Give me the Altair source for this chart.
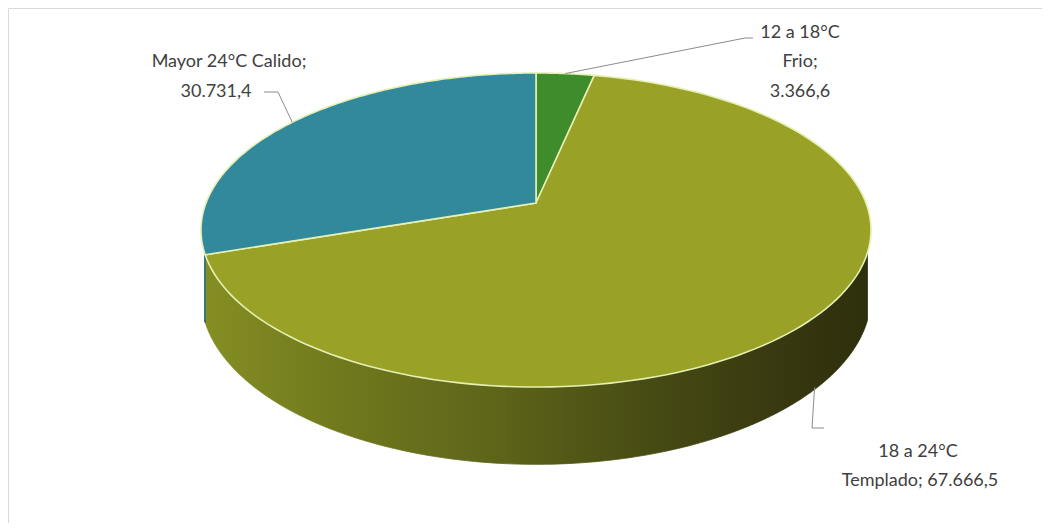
import altair as alt
import pandas as pd

# ---- data ----
categories = ["12 a 18°C Frio", "18 a 24°C Templado", "Mayor 24°C Calido"]
values = [3366.6, 67666.5, 30731.4]
label_lines = [
    ["12 a 18°C", "Frio;", "3.366,6"],
    ["18 a 24°C", "Templado; 67.666,5"],
    ["Mayor 24°C Calido;", "30.731,4"],
]

# ---- layout / style constants ----
W, H = 1034, 515
CX, CY = 528, 195          # projected pie centre
RX, RY = 330, 152.4        # ellipse half-axes
K = 0.172                  # perspective factor
DEPTH = 64                 # side wall height
N = 140                    # arc resolution
SIL = 1.885                # visible side wall starts/ends at these angles
TL1 = SIL
TL2 = 6.2832 - SIL

top_colors = ["#3e8c2c", "#99a126", "#31899b"]
edge_color = "#e6efb4"
side_fills = {
    "18 a 24°C Templado": alt.LinearGradient(
        gradient="linear", x1=0, x2=1, y1=0, y2=0,
        stops=[
            alt.GradientStop(color="#858e23", offset=0),
            alt.GradientStop(color="#737b1e", offset=0.18),
            alt.GradientStop(color="#5d6319", offset=0.45),
            alt.GradientStop(color="#494d14", offset=0.65),
            alt.GradientStop(color="#393a10", offset=0.85),
            alt.GradientStop(color="#2e2f0c", offset=1),
        ],
    ),
    "Mayor 24°C Calido": "#24697a",
    "12 a 18°C Frio": "#2d6a20",
}
label_layout = {
    # text centre positions per line, leader elbow and end, anchor drop (0 top edge, 1 side bottom)
    "12 a 18°C Frio": dict(tx=[792, 792, 792], ty=[25, 54, 84], ex=737, ey=30, lx=745, ly=30, drop=0),
    "18 a 24°C Templado": dict(tx=[910, 912], ty=[444, 473], ex=804, ey=420, lx=816, ly=420, drop=0.97),
    "Mayor 24°C Calido": dict(tx=[221, 208], ty=[54, 84], ex=270, ey=84, lx=256, ly=84, drop=0),
}

df = pd.DataFrame({"cat": categories, "value": values, "idx": list(range(len(categories)))})
lead_df = df.copy()
for c in ["ex", "ey", "lx", "ly", "drop"]:
    lead_df[c] = [label_layout[k][c] for k in categories]

rows = []
for cat, lines in zip(categories, label_lines):
    lay = label_layout[cat]
    for i, t in enumerate(lines):
        rows.append({"cat": cat, "text": t, "tx": lay["tx"][i], "ty": lay["ty"][i]})
text_df = pd.DataFrame(rows)

xs = alt.Scale(domain=[0, W])
ys = alt.Scale(domain=[0, H], reverse=True)


def angles(ch):
    return (
        ch.transform_joinaggregate(total="sum(value)")
        .transform_window(cum="sum(value)", sort=[alt.SortField("idx")], frame=[None, 0])
        .transform_calculate(
            a0="2*PI*(datum.cum - datum.value)/datum.total",
            a1="2*PI*datum.cum/datum.total",
        )
    )


layers = []

# side walls
for cat in categories:
    side = (
        angles(alt.Chart(df))
        .transform_filter(alt.datum.cat == cat)
        .transform_calculate(s0=f"max(datum.a0, {TL1})", s1=f"min(datum.a1, {TL2})")
        .transform_filter("datum.s1 > datum.s0")
        .transform_calculate(pts=f"sequence(0, {2 * N + 2})")
        .transform_flatten(["pts"], as_=["j"])
        .transform_calculate(
            t=f"datum.j <= {N} ? datum.s0 + (datum.s1 - datum.s0)*datum.j/{N} : datum.s1 - (datum.s1 - datum.s0)*(datum.j - {N} - 1)/{N}",
            drop=f"datum.j <= {N} ? 0 : 1",
        )
        .transform_calculate(den=f"1 + {K}*cos(datum.t)")
        .transform_calculate(
            px=f"{CX} + {RX}*sin(datum.t)/datum.den",
            py=f"{CY} - {RY}*cos(datum.t)/datum.den + datum.drop*{DEPTH}/datum.den",
        )
        .mark_line(interpolate="linear-closed", fill=side_fills[cat], stroke=side_fills[cat], strokeWidth=0.8)
        .encode(
            x=alt.X("px:Q", scale=xs, axis=None),
            y=alt.Y("py:Q", scale=ys, axis=None),
            order=alt.Order("j:Q"),
        )
    )
    layers.append(side)

# top surfaces
for cat, col in zip(categories, top_colors):
    top = (
        angles(alt.Chart(df))
        .transform_filter(alt.datum.cat == cat)
        .transform_calculate(pts=f"sequence(-1, {N + 1})")
        .transform_flatten(["pts"], as_=["j"])
        .transform_calculate(t=f"datum.j < 0 ? 0 : datum.a0 + (datum.a1 - datum.a0)*datum.j/{N}")
        .transform_calculate(den=f"1 + {K}*cos(datum.t)")
        .transform_calculate(
            px=f"datum.j < 0 ? {CX} : {CX} + {RX}*sin(datum.t)/datum.den",
            py=f"datum.j < 0 ? {CY} : {CY} - {RY}*cos(datum.t)/datum.den",
        )
        .mark_line(interpolate="linear-closed", fill=col, stroke=edge_color, strokeWidth=1.6)
        .encode(
            x=alt.X("px:Q", scale=xs, axis=None),
            y=alt.Y("py:Q", scale=ys, axis=None),
            order=alt.Order("j:Q"),
        )
    )
    layers.append(top)

# leader lines
leaders = (
    angles(alt.Chart(lead_df))
    .transform_calculate(mid="(datum.a0 + datum.a1)/2")
    .transform_calculate(den=f"1 + {K}*cos(datum.mid)")
    .transform_calculate(
        axp=f"{CX} + {RX}*sin(datum.mid)/datum.den",
        ayp=f"{CY} - {RY}*cos(datum.mid)/datum.den + datum.drop*{DEPTH}/datum.den",
        pts="sequence(0, 3)",
    )
    .transform_flatten(["pts"], as_=["j"])
    .transform_calculate(
        px="datum.j == 0 ? datum.axp : datum.j == 1 ? datum.ex : datum.lx",
        py="datum.j == 0 ? datum.ayp : datum.j == 1 ? datum.ey : datum.ly",
    )
    .mark_line(color="#8c8c8c", strokeWidth=1)
    .encode(
        x=alt.X("px:Q", scale=xs, axis=None),
        y=alt.Y("py:Q", scale=ys, axis=None),
        detail="cat:N",
        order=alt.Order("j:Q"),
    )
)
layers.append(leaders)

labels = (
    alt.Chart(text_df)
    .mark_text(font="Lato", fontSize=18, color="#404040", align="center", baseline="middle")
    .encode(
        x=alt.X("tx:Q", scale=xs, axis=None),
        y=alt.Y("ty:Q", scale=ys, axis=None),
        text="text:N",
    )
)
layers.append(labels)

chart = (
    alt.layer(*layers)
    .properties(width=W, height=H, autosize=alt.AutoSizeParams(type="none"), padding=0)
    .configure_view(stroke="#d9d9d9", strokeWidth=1)
)

chart.save("out.html", embed_options={"renderer": "svg", "actions": False})
